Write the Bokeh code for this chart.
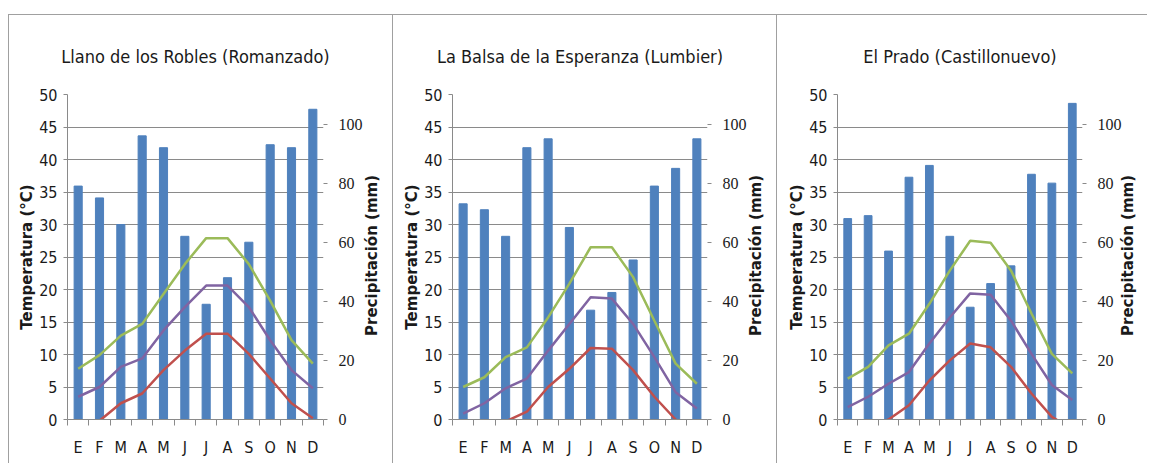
import math
from bokeh.plotting import figure
from bokeh.models import Range1d, LinearAxis, FixedTicker, CustomJSTickFormatter, Spacer
from bokeh.layouts import row, column
from bokeh.embed import file_html
from bokeh.resources import INLINE

months = ["E", "F", "M", "A", "M", "J", "J", "A", "S", "O", "N", "D"]

titles = ["Llano de los Robles (Romanzado)",
          "La Balsa de la Esperanza (Lumbier)",
          "El Prado (Castillonuevo)"]

# Precipitación (mm)
prec_robles = [79, 75, 66, 96, 92, 62, 39, 48, 60, 93, 92, 105]
prec_balsa = [73, 71, 62, 92, 95, 65, 37, 43, 54, 79, 85, 95]
prec_prado = [68, 69, 57, 82, 86, 62, 38, 46, 52, 83, 80, 107]

# Temperatura máxima media (°C)
tmax_robles = [7.8, 9.9, 12.9, 14.7, 19.3, 23.9, 27.9, 27.9, 23.9, 18.3, 12.2, 8.6]
tmax_balsa = [5.0, 6.5, 9.6, 11.1, 15.7, 20.9, 26.5, 26.5, 21.9, 15.2, 8.6, 5.5]
tmax_prado = [6.3, 8.1, 11.4, 13.2, 17.8, 22.9, 27.5, 27.2, 22.9, 16.3, 10.1, 7.1]

# Temperatura media (°C)
tmed_robles = [3.5, 5.0, 8.1, 9.4, 13.7, 17.3, 20.6, 20.6, 17.3, 12.2, 7.6, 4.8]
tmed_balsa = [0.9, 2.5, 4.8, 6.3, 10.6, 14.7, 18.8, 18.6, 14.7, 9.6, 4.2, 1.7]
tmed_prado = [1.9, 3.5, 5.5, 7.3, 11.7, 15.7, 19.4, 19.2, 15.2, 10.1, 5.3, 3.0]

# Temperatura mínima media (°C)
tmin_robles = [-1.2, -0.2, 2.5, 4.0, 7.6, 10.6, 13.2, 13.2, 10.1, 6.3, 2.5, 0.2]
tmin_balsa = [-3.0, -2.5, -0.3, 1.2, 5.0, 7.8, 11.0, 10.9, 7.6, 3.5, 0.0, -2.0]
tmin_prado = [-3.0, -1.5, 0.0, 2.2, 6.0, 9.1, 11.7, 11.1, 8.1, 4.0, 0.4, -1.5]

temp_ticks = list(range(0, 51, 5))
prec_ticks = [0, 20, 40, 60, 80, 100]

NARROW = "'Liberation Sans Narrow', 'DejaVu Sans Condensed', sans-serif"
GRID = "#8a8a8a"
TXT = "#1a1a1a"
PAD = "\u00a0" * 16  # lifts the bottom-anchored right-axis title to the centre


def make_panel(title, prec, tmax, tmed, tmin, width, mleft, mright, rstand):
    xs = [i + 0.5 for i in range(len(months))]
    styles = {"border-left": "1px solid #a0a0a0", "border-top": "1px solid #a0a0a0"}
    p = figure(width=width, height=449, x_range=Range1d(0, 12), y_range=Range1d(0, 50),
               output_backend="svg", toolbar_location=None,
               min_border_left=mleft, min_border_right=mright,
               min_border_top=78, min_border_bottom=45, styles=styles)
    p.outline_line_color = None
    p.background_fill_color = "white"
    p.border_fill_color = "white"
    p.extra_y_ranges = {"prec": Range1d(0, 110)}

    p.title.text = title
    p.title.align = "center"
    p.title.offset = 4
    p.title.standoff = 56
    p.title.text_font = NARROW
    p.title.text_font_size = "18px"
    p.title.text_font_style = "normal"
    p.title.text_color = TXT

    # grid
    p.xgrid.visible = False
    p.ygrid.ticker = FixedTicker(ticks=temp_ticks)
    p.ygrid.grid_line_color = GRID
    p.ygrid.grid_line_width = 1

    # left axis
    ya = p.yaxis[0]
    ya.ticker = FixedTicker(ticks=temp_ticks)
    ya.axis_line_color = GRID
    ya.major_tick_line_color = GRID
    ya.major_tick_out = 4
    ya.major_tick_in = 0
    ya.minor_tick_line_color = None
    ya.major_label_standoff = 6
    ya.major_label_text_font = NARROW
    ya.major_label_text_font_size = "16px"
    ya.major_label_text_color = TXT
    ya.axis_label = "Temperatura (°C)"
    ya.axis_label_text_font = "DejaVu Sans"
    ya.axis_label_text_font_style = "bold"
    ya.axis_label_text_font_size = "15px"
    ya.axis_label_text_color = TXT
    ya.axis_label_standoff = 0

    # bottom axis
    xa = p.xaxis[0]
    xa.ticker = FixedTicker(ticks=xs, minor_ticks=list(range(13)))
    xa.formatter = CustomJSTickFormatter(args=dict(labels=months),
                                         code="return labels[Math.floor(tick)] || '';")
    xa.axis_line_color = GRID
    xa.major_tick_line_color = None
    xa.major_tick_out = 0
    xa.major_tick_in = 0
    xa.minor_tick_line_color = GRID
    xa.minor_tick_out = 6
    xa.minor_tick_in = 0
    xa.major_label_standoff = 12
    xa.major_label_text_font = NARROW
    xa.major_label_text_font_size = "16px"
    xa.major_label_text_color = TXT

    # right axis (ticks)
    ra = LinearAxis(y_range_name="prec", ticker=FixedTicker(ticks=prec_ticks))
    ra.axis_line_color = None
    ra.major_tick_line_color = GRID
    ra.major_tick_out = 4
    ra.major_tick_in = 0
    ra.minor_tick_line_color = None
    ra.major_label_standoff = 11
    ra.major_label_text_font = "'Liberation Serif', serif"
    ra.major_label_text_font_size = "16px"
    ra.major_label_text_color = TXT
    p.add_layout(ra, "right")

    # right axis title, reading bottom to top
    la = LinearAxis(y_range_name="prec", ticker=FixedTicker(ticks=[]))
    la.axis_line_color = None
    la.major_tick_line_color = None
    la.minor_tick_line_color = None
    la.major_tick_out = 0
    la.major_label_text_font_size = "0px"
    la.axis_label = PAD + "Precipitación (mm)"
    la.axis_label_text_font = "DejaVu Sans"
    la.axis_label_text_font_style = "bold"
    la.axis_label_text_font_size = "15px"
    la.axis_label_text_color = TXT
    la.axis_label_standoff = rstand
    la.axis_label_orientation = math.pi / 2
    la.axis_label_align = "start"
    p.add_layout(la, "right")

    p.vbar(x=xs, top=prec, width=0.38, y_range_name="prec", color="#4F81BD")
    p.line(xs, tmax, color="#9BBB59", line_width=2.5)
    p.line(xs, tmed, color="#8064A2", line_width=2.5)
    p.line(xs, tmin, color="#C0504D", line_width=2.5)
    return p


p1 = make_panel(titles[0], prec_robles, tmax_robles, tmed_robles, tmin_robles, 384, 58, 70, 6)
p2 = make_panel(titles[1], prec_balsa, tmax_balsa, tmed_balsa, tmin_balsa, 384, 59, 70, 6)
p3 = make_panel(titles[2], prec_prado, tmax_prado, tmed_prado, tmin_prado, 371, 60, 55, 3)

layout = column(Spacer(height=14), row(Spacer(width=8), p1, p2, p3))

open("out.html", "w").write(file_html(layout, INLINE))
